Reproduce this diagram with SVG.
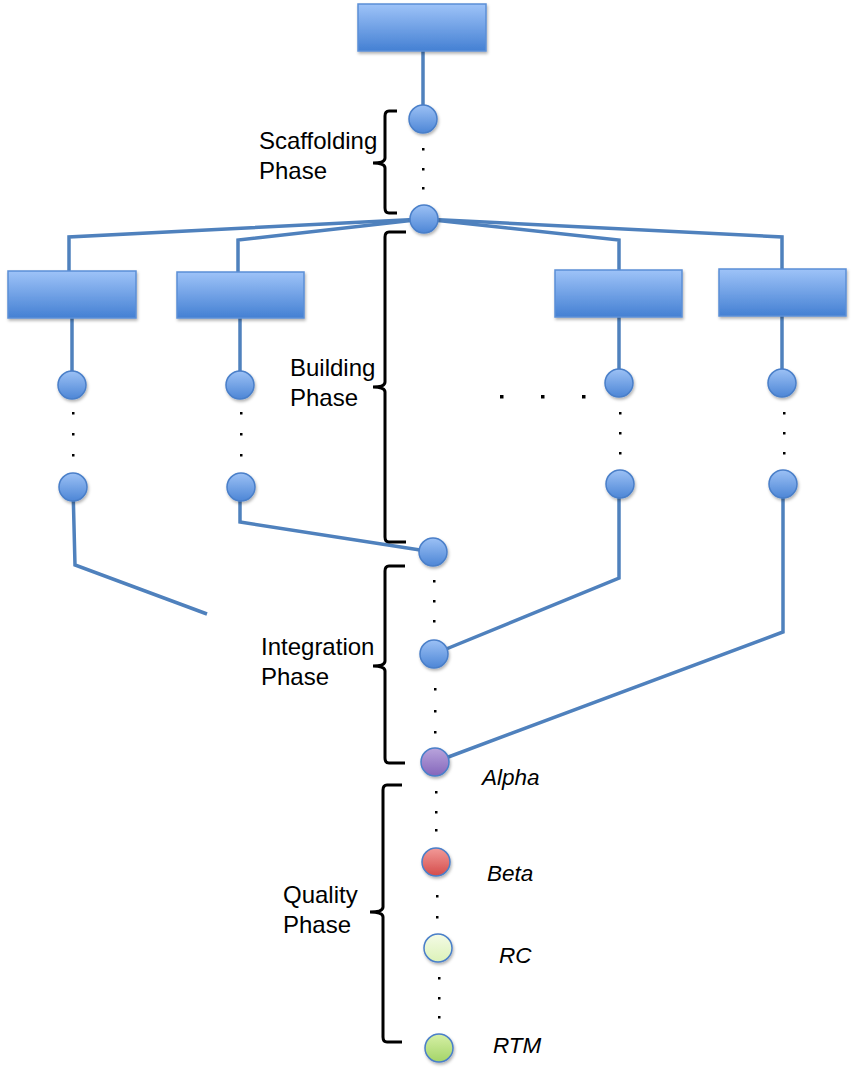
<svg xmlns="http://www.w3.org/2000/svg" width="854" height="1074" viewBox="0 0 854 1074">
<defs>
<linearGradient id="gBox" x1="0" y1="0" x2="0" y2="1"><stop offset="0" stop-color="#9ec3f8"/><stop offset="1" stop-color="#4480d3"/></linearGradient>
<linearGradient id="gBlue" x1="0" y1="0" x2="0" y2="1"><stop offset="0" stop-color="#9cc1f5"/><stop offset="1" stop-color="#4d86d6"/></linearGradient>
<linearGradient id="gPurple" x1="0" y1="0" x2="0" y2="1"><stop offset="0" stop-color="#b9a4dc"/><stop offset="1" stop-color="#8466bb"/></linearGradient>
<linearGradient id="gRed" x1="0" y1="0" x2="0" y2="1"><stop offset="0" stop-color="#f29a98"/><stop offset="1" stop-color="#d44c4a"/></linearGradient>
<linearGradient id="gRC" x1="0" y1="0" x2="0" y2="1"><stop offset="0" stop-color="#f4fbe6"/><stop offset="1" stop-color="#dcf2b8"/></linearGradient>
<linearGradient id="gRTM" x1="0" y1="0" x2="0" y2="1"><stop offset="0" stop-color="#d6f0a6"/><stop offset="1" stop-color="#a4d468"/></linearGradient>
<filter id="sh" x="-10%" y="-10%" width="130%" height="140%"><feDropShadow dx="1" dy="2" stdDeviation="1.5" flood-color="#000" flood-opacity="0.3"/></filter>
</defs>
<style>
.box{fill:url(#gBox);stroke:#5b8fd6;stroke-width:1.5;filter:url(#sh)}
.nd{stroke:#4a7fc9;stroke-width:1.5;filter:url(#sh)}
.b{fill:url(#gBlue)}
.ln{fill:none;stroke:#4f81bd;stroke-width:3.5;stroke-linejoin:miter}
.br{fill:none;stroke:#000;stroke-width:3}
.dot{fill:#000}
.lbl{font-family:"Liberation Sans",Arial,sans-serif;font-size:24px;fill:#000}
.it{font-family:"Liberation Sans",Arial,sans-serif;font-size:22.5px;font-style:italic;fill:#000}
</style>
<g id="connectors">
<path class="ln" d="M423,51 L423,105"/>
<path class="ln" d="M424,219 L69,237 L69,271"/>
<path class="ln" d="M424,219 L238,240 L238,272"/>
<path class="ln" d="M424,219 L619,240 L619,270"/>
<path class="ln" d="M424,219 L782,237 L782,269"/>
<path class="ln" d="M72,318 L72,385"/>
<path class="ln" d="M240,318 L240,385"/>
<path class="ln" d="M619,317 L619,383"/>
<path class="ln" d="M782,316 L782,383"/>
<path class="ln" d="M73,487 L75,565 L207,614"/>
<path class="ln" d="M240,487 L240,522 L433,552"/>
<path class="ln" d="M619,484 L619,578 L434,654"/>
<path class="ln" d="M783,484 L783,632 L435,762"/>
</g>
<g id="dots">
<rect class="dot" x="422" y="148" width="2.5" height="2.5"/><rect class="dot" x="422" y="168" width="2.5" height="2.5"/><rect class="dot" x="422" y="187" width="2.5" height="2.5"/>
<rect class="dot" x="72" y="412" width="2.5" height="2.5"/><rect class="dot" x="72" y="433" width="2.5" height="2.5"/><rect class="dot" x="72" y="454" width="2.5" height="2.5"/>
<rect class="dot" x="240" y="412" width="2.5" height="2.5"/><rect class="dot" x="240" y="433" width="2.5" height="2.5"/><rect class="dot" x="240" y="454" width="2.5" height="2.5"/>
<rect class="dot" x="619" y="412" width="2.5" height="2.5"/><rect class="dot" x="619" y="432" width="2.5" height="2.5"/><rect class="dot" x="619" y="452" width="2.5" height="2.5"/>
<rect class="dot" x="783" y="412" width="2.5" height="2.5"/><rect class="dot" x="783" y="432" width="2.5" height="2.5"/><rect class="dot" x="783" y="452" width="2.5" height="2.5"/>
<rect class="dot" x="500" y="395" width="3.5" height="3.5"/><rect class="dot" x="541" y="395" width="3.5" height="3.5"/><rect class="dot" x="582" y="395" width="3.5" height="3.5"/>
<rect class="dot" x="433" y="580" width="2.5" height="2.5"/><rect class="dot" x="433" y="600" width="2.5" height="2.5"/><rect class="dot" x="433" y="620" width="2.5" height="2.5"/>
<rect class="dot" x="434" y="688" width="2.5" height="2.5"/><rect class="dot" x="434" y="710" width="2.5" height="2.5"/><rect class="dot" x="434" y="731" width="2.5" height="2.5"/>
<rect class="dot" x="435" y="791" width="2.5" height="2.5"/><rect class="dot" x="435" y="811" width="2.5" height="2.5"/><rect class="dot" x="435" y="829" width="2.5" height="2.5"/>
<rect class="dot" x="436" y="895" width="2.5" height="2.5"/><rect class="dot" x="436" y="916" width="2.5" height="2.5"/><rect class="dot" x="436" y="934" width="2.5" height="2.5"/>
<rect class="dot" x="438" y="977" width="2.5" height="2.5"/><rect class="dot" x="438" y="997" width="2.5" height="2.5"/><rect class="dot" x="438" y="1016" width="2.5" height="2.5"/>
</g>
<g id="braces">
<path class="br" d="M397,111 L389,111 Q385,111 385,116 L385,158 Q385,163 373,163 Q385,163 385,168 L385,208 Q385,213 389,213 L397,213"/>
<path class="br" d="M406,232 L389,232 Q385,232 385,237 L385,382 Q385,387 373,387 Q385,387 385,392 L385,537 Q385,542 389,542 L406,542"/>
<path class="br" d="M405,566 L389,566 Q385,566 385,571 L385,661 Q385,666 373,666 Q385,666 385,671 L385,758 Q385,763 389,763 L405,763"/>
<path class="br" d="M402,785 L387,785 Q383,785 383,790 L383,907 Q383,912 370,912 Q383,912 383,917 L383,1037 Q383,1042 387,1042 L402,1042"/>
</g>
<g id="box-top"><rect class="box" x="358" y="4" width="128" height="47"/></g>
<g id="box-1"><rect class="box" x="8" y="271" width="128" height="47"/></g>
<g id="box-2"><rect class="box" x="177" y="272" width="127" height="46"/></g>
<g id="box-3"><rect class="box" x="555" y="270" width="127" height="47"/></g>
<g id="box-4"><rect class="box" x="719" y="269" width="127" height="47"/></g>
<g id="n-s1"><circle class="nd b" cx="423" cy="119" r="14"/></g>
<g id="n-s2"><circle class="nd b" cx="424" cy="219" r="14"/></g>
<g id="n-a1"><circle class="nd b" cx="72" cy="385" r="14"/></g>
<g id="n-a2"><circle class="nd b" cx="73" cy="487" r="14"/></g>
<g id="n-b1"><circle class="nd b" cx="240" cy="385" r="14"/></g>
<g id="n-b2"><circle class="nd b" cx="241" cy="487" r="14"/></g>
<g id="n-c1"><circle class="nd b" cx="619" cy="383" r="14"/></g>
<g id="n-c2"><circle class="nd b" cx="620" cy="484" r="14"/></g>
<g id="n-d1"><circle class="nd b" cx="782" cy="383" r="14"/></g>
<g id="n-d2"><circle class="nd b" cx="783" cy="484" r="14"/></g>
<g id="n-i1"><circle class="nd b" cx="433" cy="552" r="14"/></g>
<g id="n-i2"><circle class="nd b" cx="434" cy="654" r="14"/></g>
<g id="n-alpha"><circle class="nd" fill="url(#gPurple)" stroke="#8a6dbd" cx="435" cy="762" r="14"/><text class="it" x="482" y="785">Alpha</text></g>
<g id="n-beta"><circle class="nd" fill="url(#gRed)" stroke="#c24745" cx="436" cy="862" r="14"/><text class="it" x="487" y="881">Beta</text></g>
<g id="n-rc"><circle class="nd" fill="url(#gRC)" stroke="#9cc35a" cx="438" cy="948" r="14"/><text class="it" x="499" y="963">RC</text></g>
<g id="n-rtm"><circle class="nd" fill="url(#gRTM)" stroke="#8fbf55" cx="439" cy="1048" r="14"/><text class="it" x="493" y="1053">RTM</text></g>
<g id="labels">
<text class="lbl" x="259" y="149">Scaffolding</text><text class="lbl" x="259" y="179">Phase</text>
<text class="lbl" x="290" y="376">Building</text><text class="lbl" x="290" y="406">Phase</text>
<text class="lbl" x="261" y="655">Integration</text><text class="lbl" x="261" y="685">Phase</text>
<text class="lbl" x="283" y="903">Quality</text><text class="lbl" x="283" y="933">Phase</text>
</g>
</svg>
